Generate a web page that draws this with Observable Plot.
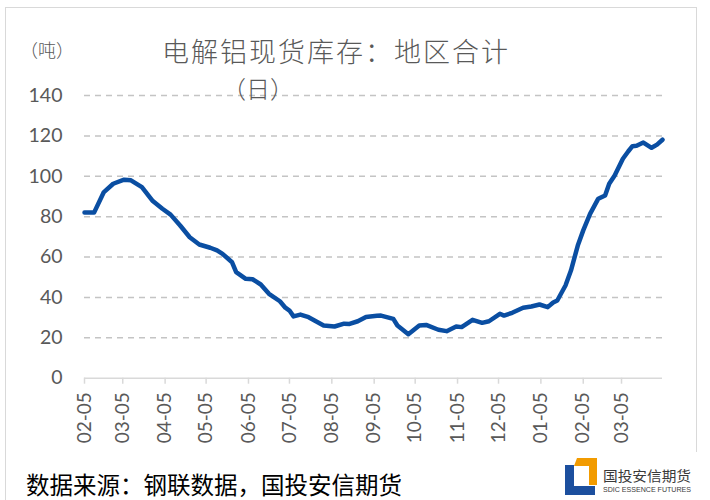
<!DOCTYPE html>
<html>
<head>
<meta charset="utf-8">
<script src="https://cdn.jsdelivr.net/npm/d3@7"></script>
<script src="https://cdn.jsdelivr.net/npm/@observablehq/plot@0.6"></script>
<style>
  html, body { margin: 0; padding: 0; background: #fff; }
  #wrap { position: relative; width: 710px; height: 500px; overflow: hidden; background: #fff; }
  #frame { position: absolute; left: 5px; top: 7px; width: 692px; height: 520px; border: 1.5px solid #d9d9d9; box-sizing: border-box; }
  #chart { position: absolute; left: 0; top: 0; }
  .t { position: absolute; white-space: nowrap; line-height: 1; font-family: "Noto Sans CJK SC", sans-serif; }
  #title { left: 162px; top: 37px; font-size: 27px; font-weight: 300; color: #595959; letter-spacing: 2px; }
  #title2 { left: 222px; top: 76px; font-size: 24px; font-weight: 300; color: #595959; }
  #unit { left: 20px; top: 40px; font-size: 18px; font-weight: 300; color: #595959; }
  #caption { left: 26px; top: 473px; font-size: 23.5px; color: #000; }
  #logo { position: absolute; left: 560px; top: 452px; width: 145px; height: 48px; background: #fff; }
</style>
</head>
<body>
<div id="wrap">
  <div id="frame"></div>
  <div id="chart"></div>
  <div class="t" id="unit">（吨）</div>
  <div class="t" id="title">电解铝现货库存：地区合计</div>
  <div class="t" id="title2">（日）</div>
  <div class="t" id="caption">数据来源：钢联数据，国投安信期货</div>
  <div id="logo">
    <svg width="145" height="48" viewBox="0 0 145 48">
      <path d="M5 13 H14 V34 H35 V43 H5 Z" fill="#1c4f9e"/>
      <path d="M17 6 H37 V33 H29 V14 H14 Z" fill="#f29b00"/>
      <text x="43" y="29" font-family="Noto Sans CJK SC" font-size="14" fill="#3a3a3a" textLength="88" lengthAdjust="spacingAndGlyphs">国投安信期货</text>
      <text x="43" y="40" font-family="Liberation Sans Narrow, Liberation Sans" font-size="8" fill="#3a3a3a" textLength="88" lengthAdjust="spacingAndGlyphs">SDIC ESSENCE FUTURES</text>
    </svg>
  </div>
</div>
<script>
const dates = ["2021-02-05","2021-02-12","2021-02-19","2021-02-26","2021-03-06","2021-03-11","2021-03-19","2021-03-27","2021-04-03","2021-04-09","2021-04-16","2021-04-23","2021-04-30","2021-05-08","2021-05-13","2021-05-17","2021-05-24","2021-05-27","2021-06-03","2021-06-08","2021-06-14","2021-06-20","2021-06-28","2021-07-02","2021-07-05","2021-07-08","2021-07-13","2021-07-19","2021-07-25","2021-07-30","2021-08-07","2021-08-14","2021-08-18","2021-08-24","2021-08-30","2021-09-07","2021-09-10","2021-09-19","2021-09-22","2021-09-30","2021-10-08","2021-10-13","2021-10-22","2021-10-28","2021-11-04","2021-11-08","2021-11-16","2021-11-23","2021-11-28","2021-12-06","2021-12-09","2021-12-15","2021-12-23","2021-12-29","2022-01-04","2022-01-10","2022-01-14","2022-01-17","2022-01-23","2022-01-27","2022-02-01","2022-02-05","2022-02-10","2022-02-16","2022-02-21","2022-02-24","2022-02-28","2022-03-06","2022-03-10","2022-03-13","2022-03-16","2022-03-21","2022-03-27","2022-03-31","2022-04-04"];
const values = [82,82,92,96.3,98.3,98,94.6,87.7,83.9,81,75.6,69.8,66.2,64.6,63.3,61.6,57.4,52.5,49.2,49,46.4,41.8,38.1,34.9,33.5,30.6,31.5,30.2,28,26.1,25.6,27,26.9,28.2,30.3,30.9,31,29.4,26.1,21.8,26.1,26.4,24,23.3,25.6,25.3,28.9,27.4,28.2,31.9,31,32.4,34.9,35.5,36.5,35.2,37.5,38.5,45.9,53.3,65.7,73.2,81.4,88.9,90.5,96.3,100.4,108.7,112.4,114.9,115.1,116.7,114.1,115.7,118.1];
const xTicks = ["2021-02-05","2021-03-05","2021-04-05","2021-05-05","2021-06-05","2021-07-05","2021-08-05","2021-09-05","2021-10-05","2021-11-05","2021-12-05","2022-01-05","2022-02-05","2022-03-05"];
const yTicks = [0,20,40,60,80,100,120,140];
const xDomain = ["2021-02-05","2022-04-04"];

const parse = d3.utcParse("%Y-%m-%d");
const data = dates.map((d, i) => ({date: parse(d), value: values[i]}));
const xt = xTicks.map(parse);

const chart = Plot.plot({
  width: 710,
  height: 500,
  marginLeft: 84,
  marginRight: 48,
  marginTop: 95,
  marginBottom: 122.3,
  style: {background: "transparent", fontFamily: "Lato, sans-serif"},
  x: {type: "utc", domain: xDomain.map(parse)},
  y: {domain: [0, 140]},
  marks: [
    Plot.ruleY(yTicks.filter(d => d > 0), {stroke: "#c4c4c4", strokeWidth: 1.5, strokeDasharray: "6,5"}),
    Plot.ruleY([0], {stroke: "#d9d9d9", strokeWidth: 1.5}),
    Plot.axisY({ticks: yTicks, tickSize: 0, tickPadding: 22, fontSize: 19.5, fill: "#595959", label: null}),
    Plot.axisX({ticks: xt, tickFormat: d3.utcFormat("%m-%d"), tickRotate: -90, tickSize: 6, tickPadding: 8, fontSize: 19, fill: "#595959", stroke: "#d9d9d9", strokeWidth: 1.5, label: null}),
    Plot.line(data, {x: "date", y: "value", stroke: "#0a4ea2", strokeWidth: 4.5, strokeLinejoin: "round", strokeLinecap: "round"})
  ]
});
document.getElementById("chart").appendChild(chart);
</script>
</body>
</html>
